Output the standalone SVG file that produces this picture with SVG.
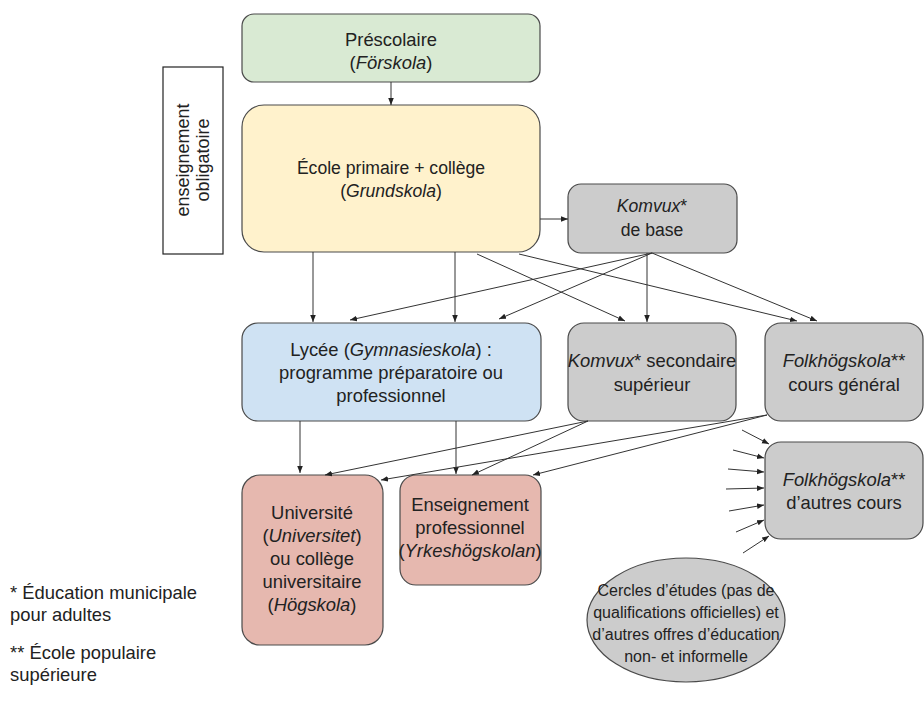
<svg xmlns="http://www.w3.org/2000/svg" width="924" height="706" viewBox="0 0 924 706">
<style>
.t{font-family:"Liberation Sans",Arial,sans-serif;font-size:18.4px;fill:#222;text-anchor:middle}
.s{font-size:17.6px}
.e{font-size:16px}
.f{font-family:"Liberation Sans",Arial,sans-serif;font-size:18.4px;fill:#222}
.box{stroke:#4a4a4a;stroke-width:1.2}
.c line{stroke:#333;stroke-width:1;marker-end:url(#ah)}
</style>
<defs>
<marker id="ah" viewBox="0 0 10 10" refX="10" refY="5" markerWidth="7" markerHeight="7" markerUnits="userSpaceOnUse" orient="auto">
<path d="M0,1 L10,5 L0,9 z" fill="#222"/>
</marker>
</defs>
<rect width="924" height="706" fill="#fff"/>

<g id="obligatoire">
<rect x="163" y="67" width="60" height="187" fill="#fff" stroke="#222" stroke-width="1.2"/>
<text class="t" style="font-size:18px" transform="translate(193,160) rotate(-90)"><tspan x="0" y="-4">enseignement</tspan><tspan x="0" y="16">obligatoire</tspan></text>
</g>

<g id="prescolaire">
<rect class="box" x="242" y="14" width="298" height="68" rx="12" fill="#d9ead3"/>
<text class="t"><tspan x="391" y="46">Préscolaire</tspan><tspan x="391" y="69">(<tspan font-style="italic">Förskola</tspan>)</tspan></text>
</g>

<g id="grundskola">
<rect class="box" x="242" y="105" width="298" height="147" rx="22" fill="#fff2cc"/>
<text class="t s"><tspan x="391" y="174">École primaire + collège</tspan><tspan x="391" y="197">(<tspan font-style="italic">Grundskola</tspan>)</tspan></text>
</g>

<g id="komvux-base">
<rect class="box" x="568" y="184" width="169" height="69" rx="13" fill="#cccccc"/>
<text class="t s"><tspan x="652" y="212" font-style="italic">Komvux</tspan><tspan>*</tspan><tspan x="652" y="236">de base</tspan></text>
</g>

<g id="lycee">
<rect class="box" x="242" y="323" width="299" height="98" rx="16" fill="#cfe2f3"/>
<text class="t"><tspan x="391" y="356">Lycée (<tspan font-style="italic">Gymnasieskola</tspan>) :</tspan><tspan x="391" y="379">programme préparatoire ou</tspan><tspan x="391" y="402">professionnel</tspan></text>
</g>

<g id="komvux-sec">
<rect class="box" x="568" y="323" width="168" height="98" rx="16" fill="#cccccc"/>
<text class="t"><tspan x="652" y="367"><tspan font-style="italic">Komvux</tspan>* secondaire</tspan><tspan x="652" y="391">supérieur</tspan></text>
</g>

<g id="folk-general">
<rect class="box" x="765" y="323" width="158" height="98" rx="16" fill="#cccccc"/>
<text class="t"><tspan x="844" y="367"><tspan font-style="italic">Folkhögskola</tspan>**</tspan><tspan x="844" y="391">cours général</tspan></text>
</g>

<g id="folk-autres">
<rect class="box" x="765" y="442" width="158" height="97" rx="16" fill="#cccccc"/>
<text class="t"><tspan x="844" y="486"><tspan font-style="italic">Folkhögskola</tspan>**</tspan><tspan x="844" y="509">d’autres cours</tspan></text>
</g>

<g id="universite">
<rect class="box" x="242" y="475" width="141" height="170" rx="18" fill="#e6b8af"/>
<text class="t"><tspan x="312" y="519">Université</tspan><tspan x="312" y="542">(<tspan font-style="italic">Universitet</tspan>)</tspan><tspan x="312" y="565">ou collège</tspan><tspan x="312" y="588">universitaire</tspan><tspan x="312" y="611">(<tspan font-style="italic">Högskola</tspan>)</tspan></text>
</g>

<g id="yrkes">
<rect class="box" x="400" y="475" width="141" height="110" rx="16" fill="#e6b8af"/>
<text class="t"><tspan x="470" y="511">Enseignement</tspan><tspan x="470" y="534">professionnel</tspan><tspan x="470" y="557">(<tspan font-style="italic">Yrkeshögskolan</tspan>)</tspan></text>
</g>

<g id="cercles">
<ellipse class="box" cx="686" cy="620" rx="99" ry="62" fill="#cccccc"/>
<text class="t e"><tspan x="686" y="596">Cercles d’études (pas de</tspan><tspan x="686" y="618">qualifications officielles) et</tspan><tspan x="686" y="640">d’autres offres d’éducation</tspan><tspan x="686" y="662">non- et informelle</tspan></text>
</g>

<g id="notes">
<text class="f"><tspan x="10" y="599">* Éducation municipale</tspan><tspan x="10" y="621">pour adultes</tspan><tspan x="10" y="659">** École populaire</tspan><tspan x="10" y="681">supérieure</tspan></text>
</g>

<g id="connectors" class="c">
<line x1="391" y1="82" x2="391" y2="105"/>
<line x1="540" y1="219" x2="568" y2="219"/>
<line x1="313" y1="252" x2="313" y2="322"/>
<line x1="455" y1="252" x2="455" y2="322"/>
<line x1="477" y1="254" x2="625" y2="321"/>
<line x1="519" y1="254" x2="797" y2="321"/>
<line x1="652" y1="253" x2="350" y2="320"/>
<line x1="652" y1="253" x2="499" y2="319"/>
<line x1="647" y1="253" x2="647" y2="322"/>
<line x1="652" y1="253" x2="817" y2="321"/>
<line x1="300" y1="421" x2="300" y2="473"/>
<line x1="456" y1="421" x2="456" y2="474"/>
<line x1="588" y1="421" x2="325" y2="475"/>
<line x1="588" y1="421" x2="472" y2="475"/>
<line x1="767" y1="415" x2="381" y2="480"/>
<line x1="767" y1="415" x2="533" y2="475"/>
<line x1="742" y1="430" x2="769" y2="444"/>
<line x1="733" y1="450" x2="764" y2="458"/>
<line x1="728" y1="469" x2="764" y2="472"/>
<line x1="726" y1="489" x2="764" y2="488"/>
<line x1="729" y1="511" x2="764" y2="505"/>
<line x1="736" y1="532" x2="764" y2="520"/>
<line x1="743" y1="553" x2="769" y2="536"/>
</g>
</svg>
